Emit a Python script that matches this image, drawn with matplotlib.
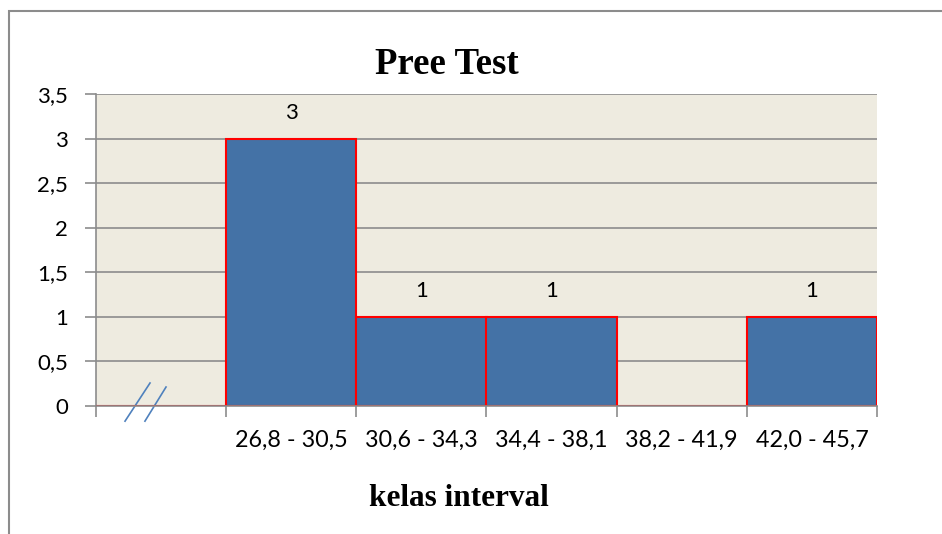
"""Pree Test histogram (kelas interval vs frekuensi)."""

import matplotlib
matplotlib.use("Agg")
import matplotlib.pyplot as plt
from matplotlib.lines import Line2D
from matplotlib.patches import Rectangle

# data
categories = ["", "26,8 - 30,5", "30,6 - 34,3", "34,4 - 38,1", "38,2 - 41,9", "42,0 - 45,7"]
counts = [0, 3, 1, 1, 0, 1]
y_ticks = [0, 0.5, 1, 1.5, 2, 2.5, 3, 3.5]
y_tick_labels = ["0", "0,5", "1", "1,5", "2", "2,5", "3", "3,5"]

BAR_COLOR = "#4472A6"
EDGE_COLOR = "#FF0000"
AXIS_GRAY = "#8C8C8C"
PLOT_BG = "#EEEBE0"
SANS = "Lato"
SERIF = "Liberation Serif"
FS = 16

fig = plt.figure(figsize=(9.42, 5.34), dpi=100)
ax = fig.add_axes([96 / 942, 1 - 406 / 534, (877 - 96) / 942, (406 - 94) / 534])
ax.set_facecolor(PLOT_BG)

x = list(range(len(categories)))
ax.bar(x, counts, width=1.0, color=BAR_COLOR, edgecolor=EDGE_COLOR, linewidth=1.5, zorder=3)

for xi, c in zip(x, counts):
    if c > 0:
        ax.text(xi, c + 0.29, f"{c}", ha="center", va="center", fontsize=FS, family=SANS)

ax.set_xlim(-0.5, len(categories) - 0.5)
ax.set_ylim(0, 3.5)

ax.set_yticks(y_ticks, y_tick_labels, fontsize=FS, family=SANS)
ax.yaxis.grid(True, color=AXIS_GRAY, linewidth=1.2, zorder=0)
ax.set_axisbelow(True)

# category boundaries get the ticks, names sit between them
ax.set_xticks([v - 0.5 for v in range(len(categories) + 1)], [""] * (len(categories) + 1))
ax.set_xticks(x, categories, minor=True, fontsize=16.8, family=SANS)
ax.tick_params(axis="x", which="minor", length=0, pad=17)
ax.tick_params(axis="x", which="major", length=8, width=1.2, color=AXIS_GRAY)
ax.tick_params(axis="y", length=8, width=1.2, color=AXIS_GRAY, pad=12)

for side in ("top", "right"):
    ax.spines[side].set_visible(False)
for side in ("left", "bottom"):
    ax.spines[side].set_color(AXIS_GRAY)
    ax.spines[side].set_linewidth(1.2)
ax.spines["bottom"].set_zorder(4)

# axis break marks "//" under the empty first class
for x0, y0, x1, y1 in [(-0.277, -0.17, -0.085, 0.258), (-0.124, -0.17, 0.038, 0.213)]:
    ax.add_line(Line2D([x0, x1], [y0, y1], color="#4F81BD", linewidth=1.2, clip_on=False))

fig.text(447 / 942, 1 - 65 / 534, "Pree Test", ha="center", va="center",
         fontsize=26.5, fontweight="bold", family=SERIF)
fig.text(459 / 942, 1 - 498 / 534, "kelas interval", ha="center", va="center",
         fontsize=22.5, fontweight="bold", family=SERIF)

# chart frame (only left and top edges show in the crop)
fig.add_artist(Rectangle((9 / 942, -0.1), 1.2, 1 - 11 / 534 + 0.1, transform=fig.transFigure,
                         fill=False, edgecolor="#8C8C8C", linewidth=1.5))

fig.savefig("out.png", dpi=100)
